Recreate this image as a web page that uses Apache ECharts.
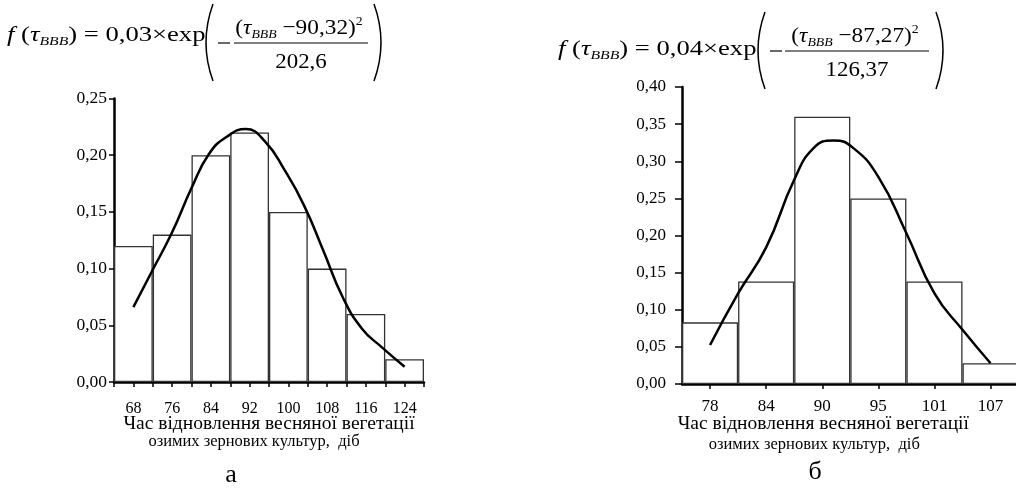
<!DOCTYPE html>
<html>
<head>
<meta charset="utf-8">
<script src="https://cdn.jsdelivr.net/npm/echarts@6/dist/echarts.min.js"></script>
<style>
html, body {margin: 0; background: #fff;}
#main {width: 1016px; height: 493px;}
</style>
</head>
<body>
<div id="main"></div>
<script>
// chart а
var daysA = ['68', '76', '84', '92', '100', '108', '116', '124'];
var freqA = [0.12, 0.13, 0.20, 0.22, 0.15, 0.10, 0.06, 0.02];
// fitted curve, x in bar units (bar i covers i..i+1)
var curveA = [[0.5, 0.066], [1.0, 0.099], [1.5, 0.132], [2.0, 0.171], [2.45, 0.201],
	[2.9, 0.216], [3.4, 0.223], [3.9, 0.212], [4.4, 0.187], [4.9, 0.156],
	[5.4, 0.116], [5.9, 0.075], [6.4, 0.047], [6.9, 0.031], [7.5, 0.0135]];
var yMaxA = 0.25;

// chart б
var daysB = ['78', '84', '90', '95', '101', '107'];
var freqB = [0.083, 0.138, 0.36, 0.25, 0.138, 0.028];
var curveB = [[0.5, 0.0525], [1.0, 0.122], [1.5, 0.184], [2.0, 0.275], [2.35, 0.318],
	[2.7, 0.328], [3.05, 0.318], [3.5, 0.279], [4.0, 0.203], [4.5, 0.122], [5.0, 0.073], [5.5, 0.028]];
var yMaxB = 0.40;
var yStep = 0.05;

var serif = 'Liberation Serif';
var nameLine1 = 'Час відновлення весняної вегетації';
var nameLine2 = 'озимих зернових культур,  діб';

function comma(v) {
	return v.toFixed(2).replace('.', ',');
}

var richMath = {
	n: {fontFamily: serif, fontSize: 22, lineHeight: 26, color: '#000'},
	it: {fontFamily: serif, fontSize: 22, lineHeight: 26, fontStyle: 'italic', color: '#000'},
	sub: {fontFamily: serif, fontSize: 13, lineHeight: 12, fontStyle: 'italic', verticalAlign: 'bottom', color: '#000'},
	sup: {fontFamily: serif, fontSize: 13, lineHeight: 13, verticalAlign: 'top', color: '#000'}
};

function txt(x, y, text, size, align, sx) {
	return {
		type: 'text', x: x, y: y, scaleX: sx || 1,
		style: {text: text, fontFamily: serif, fontSize: size, fill: '#000',
			align: align || 'center', verticalAlign: 'middle',
			textAlign: align || 'center', textVerticalAlign: 'middle', rich: richMath}
	};
}
function seg(x1, y1, x2, y2) {
	return {type: 'line', shape: {x1: x1, y1: y1, x2: x2, y2: y2}, style: {stroke: '#000', lineWidth: 1.2}};
}
function paren(x, y1, y2, bend) {
	return {type: 'bezierCurve', shape: {x1: x, y1: y1, x2: x, y2: y2, cpx1: x + bend, cpy1: (y1 + y2) / 2},
		style: {stroke: '#000', lineWidth: 1.5, fill: null}};
}

function formula(x0, yMain, yBar, coef, num, den, xs) {
	return [
		txt(x0, yMain, '{it|f}{n| (}{it|τ}{sub|BBB}{n|) = ' + coef + '×exp}', 22, 'left', 1.21),
		paren(xs[0], yBar - 39, yBar + 38, -14),
		seg(xs[0] + 5, yBar, xs[0] + 17, yBar),
		seg(xs[1], yBar, xs[2], yBar),
		txt((xs[1] + xs[2]) / 2 - 2, yBar - 15, '{n|(}{it|τ}{sub|BBB}{n| −' + num + ')}{sup|2}', 22, 'center', 1.06),
		txt((xs[1] + xs[2]) / 2, yBar + 19, den, 22, 'center', 1.04),
		paren(xs[3], yBar - 39, yBar + 38, 14)
	];
}

function xName(shift2, lh) {
	return {
		a: {fontFamily: serif, fontSize: 19.5, lineHeight: lh, color: '#000'},
		b: {fontFamily: serif, fontSize: 16.5, lineHeight: lh, color: '#000', padding: [0, shift2, 0, 0]}
	};
}

var myChart = echarts.init(document.getElementById('main'));

var option = {
	backgroundColor: '#fff',
	animation: false,
	grid: [
		{left: 114, top: 98.5, width: 310, height: 283.5, outerBoundsMode: 'none', containLabel: false},
		{left: 682, top: 87, width: 336.6, height: 297, outerBoundsMode: 'none', containLabel: false}
	],
	xAxis: [
		{
			gridIndex: 0, type: 'category', data: daysA, position: 'bottom',
			axisLine: {lineStyle: {color: '#000', width: 2.5}},
			axisTick: {show: false},
			axisLabel: {margin: 19, color: '#000', fontFamily: serif, fontSize: 16},
			name: '{a|' + nameLine1 + '}\n{b|' + nameLine2 + '}', nameLocation: 'middle', nameGap: 33,
			nameMoveOverlap: false,
			nameTextStyle: {rich: xName(30, 18)}
		},
		{
			gridIndex: 0, type: 'value', min: 0, max: 8, interval: 0.5, position: 'bottom',
			axisLine: {show: false},
			axisTick: {show: true, length: 5, lineStyle: {color: '#000', width: 1.5}},
			axisLabel: {show: false},
			splitLine: {show: false}
		},
		{
			gridIndex: 1, type: 'category', data: daysB, position: 'bottom',
			axisLine: {lineStyle: {color: '#000', width: 2.5}},
			axisTick: {show: true, alignWithLabel: true, length: 5, lineStyle: {color: '#000', width: 1.5}},
			axisLabel: {margin: 14, color: '#000', fontFamily: serif, fontSize: 17},
			name: '{a|' + nameLine1 + '}\n{b|' + nameLine2 + '}', nameLocation: 'middle', nameGap: 29,
			nameMoveOverlap: false,
			nameTextStyle: {rich: xName(18, 21), padding: [0, 54, 0, 0]}
		},
		{gridIndex: 1, type: 'value', min: 0, max: 6, show: false}
	],
	yAxis: [
		{
			gridIndex: 0, type: 'value', min: 0, max: yMaxA, interval: yStep,
			axisLine: {show: true, lineStyle: {color: '#000', width: 2.5}},
			axisTick: {show: true, length: 5, lineStyle: {color: '#000', width: 1.5}},
			axisLabel: {formatter: comma, margin: 7, color: '#000', fontFamily: serif, fontSize: 17.5},
			splitLine: {show: false}
		},
		{
			gridIndex: 1, type: 'value', min: 0, max: yMaxB, interval: yStep,
			axisLine: {show: true, lineStyle: {color: '#000', width: 2.5}},
			axisTick: {show: true, length: 7, lineStyle: {color: '#000', width: 1.5}},
			axisLabel: {formatter: comma, margin: 16, color: '#000', fontFamily: serif, fontSize: 17},
			splitLine: {show: false}
		}
	],
	series: [
		{
			type: 'bar', xAxisIndex: 0, yAxisIndex: 0, data: freqA, barCategoryGap: '0%',
			itemStyle: {color: '#fff', borderColor: '#333', borderWidth: 1.3}
		},
		{
			type: 'line', xAxisIndex: 1, yAxisIndex: 0, data: curveA, smooth: true, symbol: 'none',
			lineStyle: {color: '#000', width: 2.5}
		},
		{
			type: 'bar', xAxisIndex: 2, yAxisIndex: 1, data: freqB, barCategoryGap: '0%',
			itemStyle: {color: '#fff', borderColor: '#333', borderWidth: 1.3}
		},
		{
			type: 'line', xAxisIndex: 3, yAxisIndex: 1, data: curveB, smooth: true, symbol: 'none',
			lineStyle: {color: '#000', width: 2.5}
		}
	],
	graphic: formula(7, 35, 43, '0,03', '90,32', '202,6', [213, 234, 368, 374])
		.concat(formula(558, 49, 51, '0,04', '87,27', '126,37', [765, 785, 929, 936]))
		.concat([txt(231, 475, 'а', 26), txt(815, 472, 'б', 26)])
};

myChart.setOption(option);
</script>
</body>
</html>
